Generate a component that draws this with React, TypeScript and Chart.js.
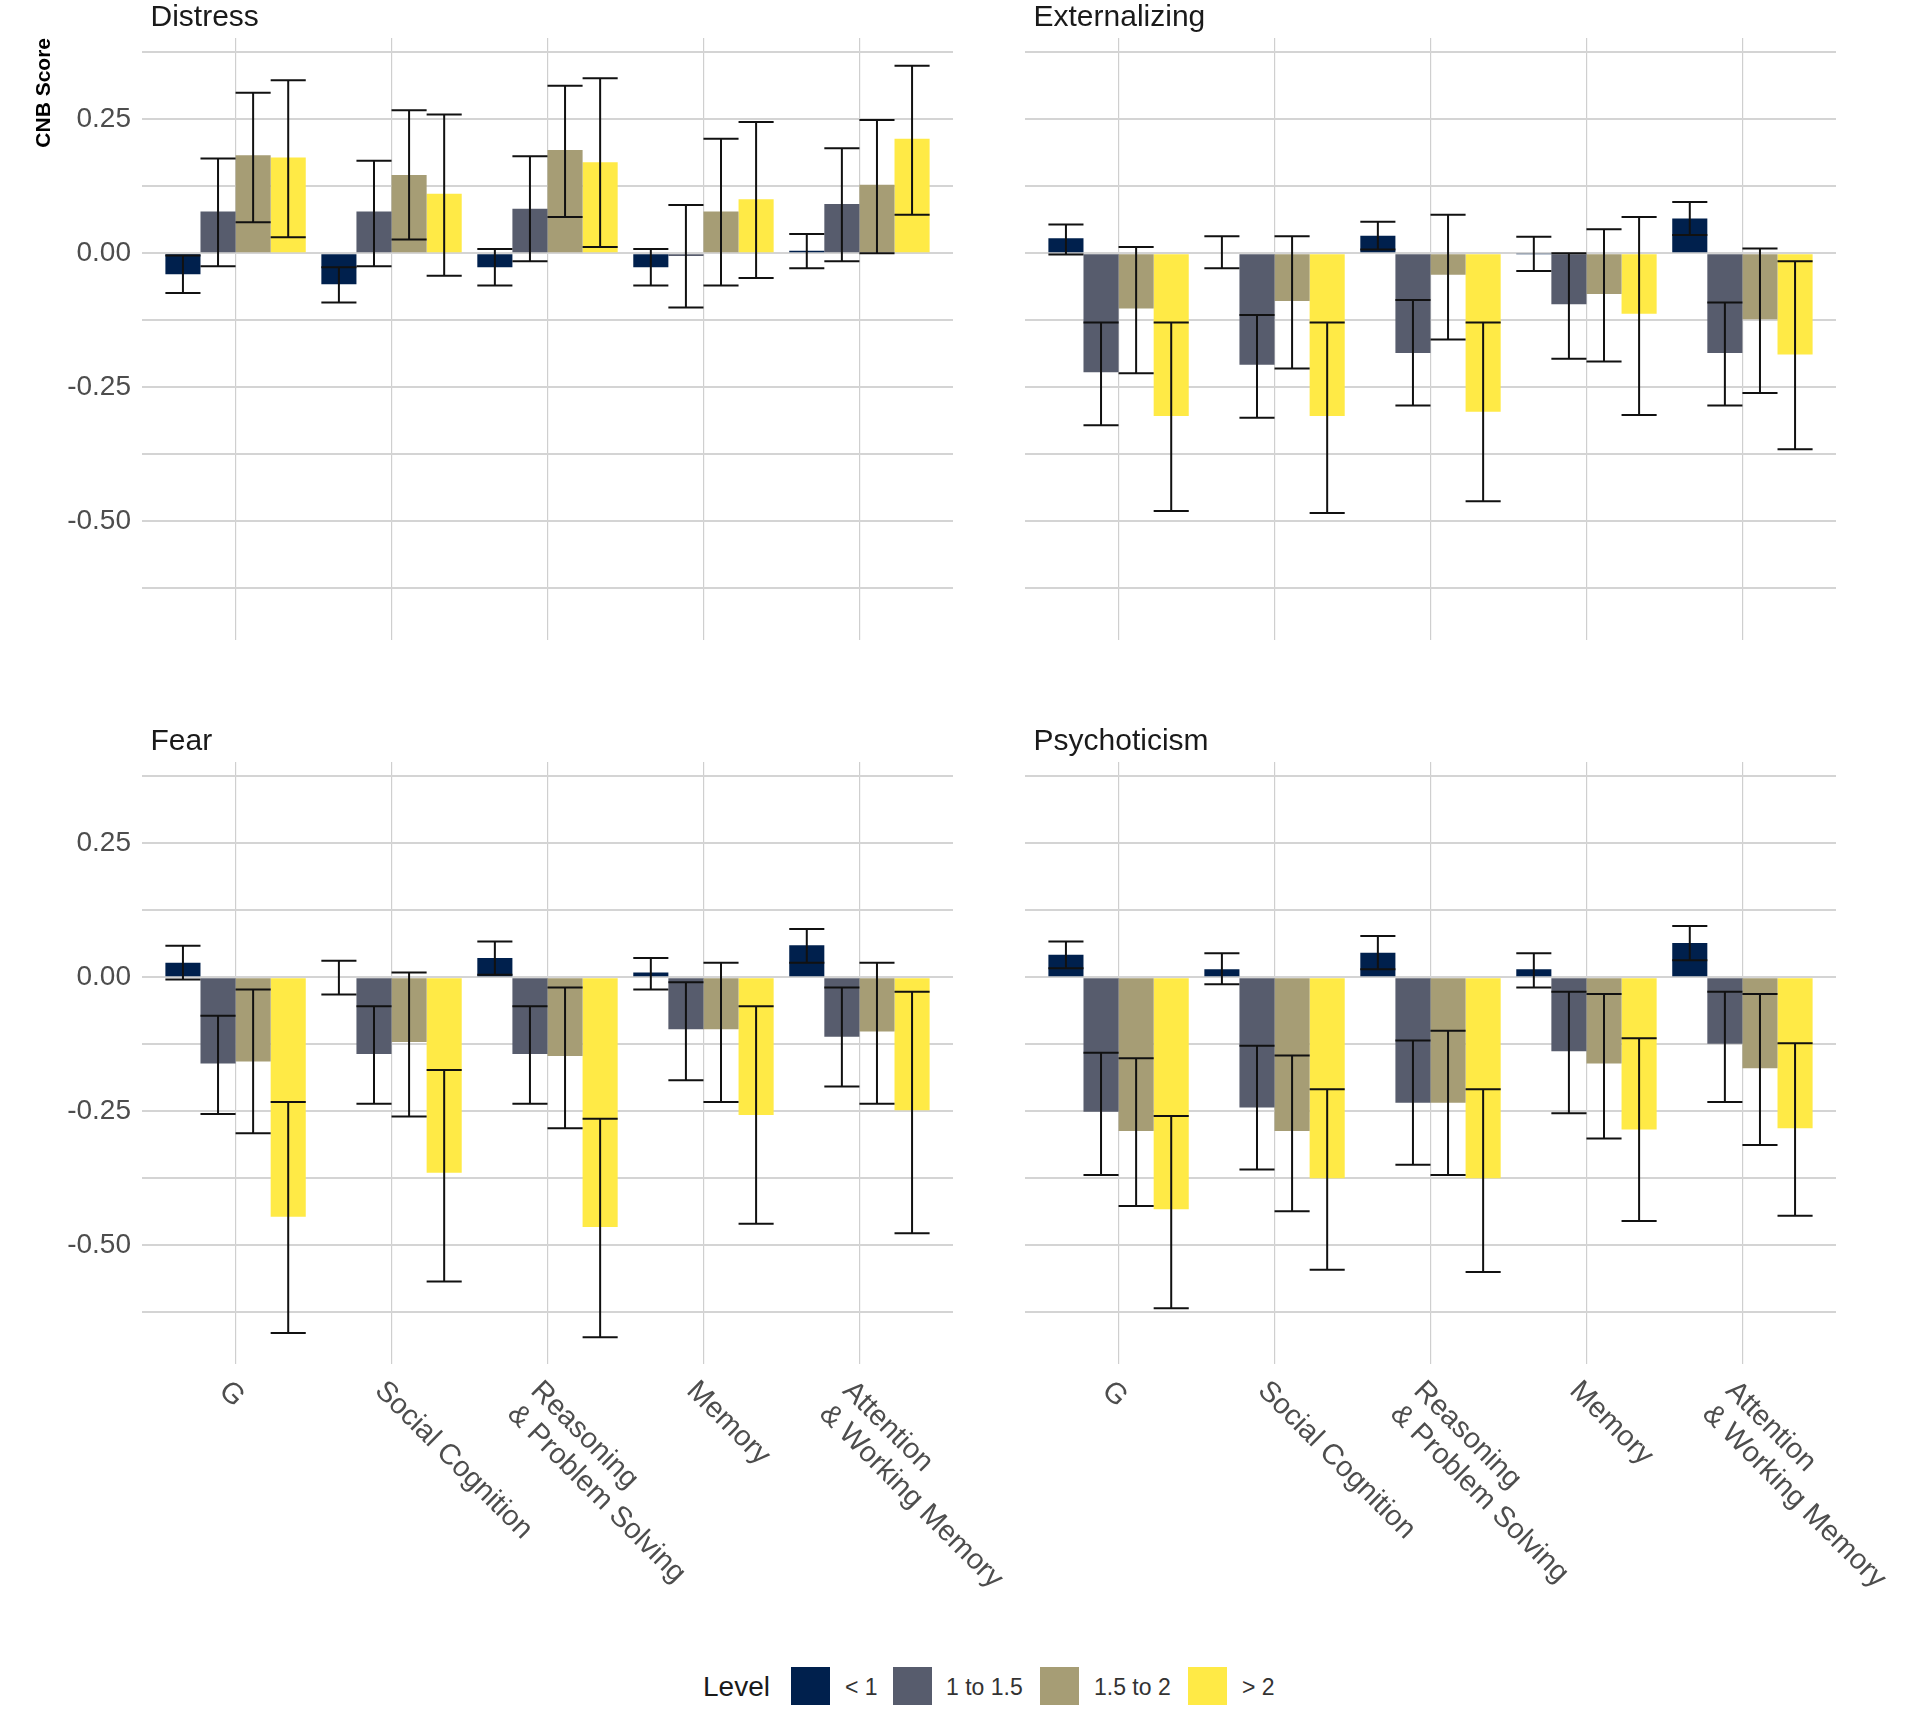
import React, { useEffect, useRef } from 'react';
import { Chart, registerables } from 'chart.js';

Chart.register(...registerables);

const FONT = '"Liberation Sans", Arial, Helvetica, sans-serif';
Chart.defaults.font.family = FONT;

// ---------- data ----------
const CATEGORIES = ['G', 'Social Cognition', 'Reasoning\n& Problem Solving', 'Memory', 'Attention\n& Working Memory'];
const LEVELS = ['< 1', '1 to 1.5', '1.5 to 2', '> 2'];
const LEVEL_COLORS = ['#00204D', '#575C6D', '#A69D75', '#FFEA46'];
const Y_GRID = [0.375, 0.25, 0.125, 0, -0.125, -0.25, -0.375, -0.5, -0.625];
const Y_LABELLED = [0.25, 0, -0.25, -0.5];
const Y_MIN = -0.722;
const Y_MAX = 0.402;
const Y_TITLE = 'CNB Score';
const LEGEND_TITLE = 'Level';

// rows = levels (< 1, 1 to 1.5, 1.5 to 2, > 2); columns = categories
const distressMean = [
  [-0.039, -0.058, -0.026, -0.026, 0.005],
  [0.078, 0.078, 0.083, -0.005, 0.092],
  [0.183, 0.146, 0.193, 0.078, 0.128],
  [0.179, 0.111, 0.170, 0.101, 0.214],
];
const distressLow = [
  [-0.074, -0.092, -0.060, -0.060, -0.028],
  [-0.024, -0.024, -0.015, -0.101, -0.015],
  [0.058, 0.026, 0.068, -0.060, 0.000],
  [0.030, -0.042, 0.012, -0.046, 0.072],
];
const distressHigh = [
  [-0.004, -0.026, 0.008, 0.008, 0.036],
  [0.177, 0.173, 0.181, 0.090, 0.196],
  [0.300, 0.267, 0.313, 0.214, 0.249],
  [0.323, 0.259, 0.327, 0.245, 0.350],
];

const externalizingMean = [
  [0.028, 0.002, 0.033, -0.001, 0.065],
  [-0.222, -0.208, -0.186, -0.095, -0.186],
  [-0.103, -0.089, -0.040, -0.076, -0.123],
  [-0.304, -0.304, -0.296, -0.113, -0.189],
];
const externalizingLow = [
  [-0.002, -0.028, 0.007, -0.033, 0.034],
  [-0.321, -0.307, -0.284, -0.197, -0.284],
  [-0.224, -0.215, -0.161, -0.202, -0.261],
  [-0.481, -0.485, -0.463, -0.302, -0.366],
];
const externalizingHigh = [
  [0.054, 0.032, 0.059, 0.031, 0.096],
  [-0.129, -0.115, -0.087, 0.000, -0.092],
  [0.012, 0.032, 0.072, 0.045, 0.009],
  [-0.129, -0.129, -0.129, 0.068, -0.015],
];

const fearMean = [
  [0.027, 0.000, 0.036, 0.009, 0.060],
  [-0.161, -0.143, -0.143, -0.097, -0.111],
  [-0.157, -0.121, -0.147, -0.097, -0.101],
  [-0.447, -0.365, -0.466, -0.257, -0.248],
];
const fearLow = [
  [-0.004, -0.032, 0.005, -0.023, 0.027],
  [-0.255, -0.236, -0.236, -0.192, -0.204],
  [-0.291, -0.260, -0.282, -0.233, -0.236],
  [-0.664, -0.568, -0.672, -0.460, -0.478],
];
const fearHigh = [
  [0.059, 0.031, 0.067, 0.036, 0.090],
  [-0.072, -0.054, -0.054, -0.009, -0.019],
  [-0.023, 0.009, -0.019, 0.027, 0.027],
  [-0.233, -0.173, -0.264, -0.054, -0.027],
];

const psychoticismMean = [
  [0.042, 0.015, 0.046, 0.015, 0.064],
  [-0.251, -0.243, -0.234, -0.138, -0.124],
  [-0.287, -0.287, -0.234, -0.161, -0.170],
  [-0.433, -0.375, -0.375, -0.284, -0.282],
];
const psychoticismLow = [
  [0.017, -0.013, 0.015, -0.019, 0.032],
  [-0.369, -0.359, -0.350, -0.254, -0.233],
  [-0.427, -0.437, -0.369, -0.301, -0.313],
  [-0.618, -0.546, -0.550, -0.455, -0.445],
];
const psychoticismHigh = [
  [0.067, 0.045, 0.077, 0.045, 0.096],
  [-0.141, -0.128, -0.118, -0.027, -0.027],
  [-0.151, -0.146, -0.100, -0.031, -0.031],
  [-0.259, -0.209, -0.209, -0.114, -0.123],
];

const FACETS = [
  { title: 'Distress', mean: distressMean, low: distressLow, high: distressHigh, col: 0, row: 0 },
  { title: 'Externalizing', mean: externalizingMean, low: externalizingLow, high: externalizingHigh, col: 1, row: 0 },
  { title: 'Fear', mean: fearMean, low: fearLow, high: fearHigh, col: 0, row: 1 },
  { title: 'Psychoticism', mean: psychoticismMean, low: psychoticismLow, high: psychoticismHigh, col: 1, row: 1 },
];

// ---------- layout (page pixels) ----------
const PANEL_X = [[142, 953], [1025, 1836]];
const PANEL_Y = [[38, 640], [762, 1364]];
const CANVAS_X = [[0, 1022], [1022, 1912]];
const CANVAS_Y = [[0, 700], [700, 1640]];

const LEGEND_SWATCH_X = [791, 893, 1040, 1188];
const LEGEND_LABEL_X = [845, 946, 1094, 1242];

type Facet = typeof FACETS[number];

function Panel({ facet }: { facet: Facet }) {
  const ref = useRef<HTMLCanvasElement>(null);
  const { col, row } = facet;
  const [cx0, cx1] = CANVAS_X[col];
  const [cy0, cy1] = CANVAS_Y[row];
  const cw = cx1 - cx0;
  const ch = cy1 - cy0;

  useEffect(() => {
    if (!ref.current) return;
    const [pl, pr] = PANEL_X[col];
    const [pt, pb] = PANEL_Y[row];
    const yAxisW = col === 0 ? pl - cx0 : 0;
    const padLeft = col === 0 ? 0 : pl - cx0;

    const errorBars = {
      id: 'errorBars',
      afterDatasetsDraw(chart: any) {
        const ctx = chart.ctx;
        const ys = chart.scales.y;
        ctx.save();
        ctx.strokeStyle = '#111111';
        ctx.lineWidth = 2;
        LEVELS.forEach((_, k) => {
          const meta = chart.getDatasetMeta(k);
          meta.data.forEach((bar: any, i: number) => {
            const { x, width } = bar.getProps(['x', 'width'], true);
            const yLo = ys.getPixelForValue(facet.low[k][i]);
            const yHi = ys.getPixelForValue(facet.high[k][i]);
            const half = width / 2;
            ctx.beginPath();
            ctx.moveTo(x, yLo);
            ctx.lineTo(x, yHi);
            ctx.moveTo(x - half, yLo);
            ctx.lineTo(x + half, yLo);
            ctx.moveTo(x - half, yHi);
            ctx.lineTo(x + half, yHi);
            ctx.stroke();
          });
        });
        ctx.restore();
      },
    };

    const facetTitle = {
      id: 'facetTitle',
      afterDraw(chart: any) {
        const { ctx, chartArea } = chart;
        ctx.save();
        ctx.font = `30px ${FONT}`;
        ctx.fillStyle = '#1a1a1a';
        ctx.textAlign = 'left';
        ctx.textBaseline = 'alphabetic';
        ctx.fillText(facet.title, chartArea.left + 8.5, chartArea.top - 12.5);
        ctx.restore();
      },
    };

    const xLabels = {
      id: 'xLabels',
      afterDraw(chart: any) {
        const { ctx, chartArea } = chart;
        const xs = chart.scales.x;
        ctx.save();
        ctx.font = `29px ${FONT}`;
        ctx.fillStyle = '#4d4d4d';
        ctx.textAlign = 'left';
        ctx.textBaseline = 'top';
        CATEGORIES.forEach((c, i) => {
          const px = xs.getPixelForValue(i + 1);
          ctx.save();
          ctx.translate(px - 2, chartArea.bottom + 12);
          ctx.rotate(Math.PI / 4);
          c.split('\n').forEach((line, j) => ctx.fillText(line, 0, j * 33));
          ctx.restore();
        });
        ctx.restore();
      },
    };

    const chart = new Chart(ref.current, {
      type: 'bar',
      data: {
        datasets: LEVELS.map((lv, k) => ({
          label: lv,
          data: facet.mean[k].map((v, i) => ({ x: i + 1, y: v })),
          backgroundColor: LEVEL_COLORS[k],
          borderWidth: 0,
          categoryPercentage: 0.9,
          barPercentage: 1,
        })),
      },
      options: {
        responsive: false,
        animation: false,
        events: [],
        layout: { padding: { left: padLeft, top: pt - cy0, right: cx1 - pr, bottom: cy1 - pb } },
        plugins: {
          legend: { display: false },
          tooltip: { enabled: false },
          title: { display: false },
        },
        scales: {
          x: {
            type: 'linear',
            min: 0.4,
            max: 5.6,
            bounds: 'data',
            offset: false,
            afterBuildTicks: (ax: any) => {
              ax.ticks = CATEGORIES.map((_, i) => ({ value: i + 1 }));
            },
            afterFit: (ax: any) => {
              ax.height = 0;
            },
            ticks: { display: false },
            grid: { display: true, offset: false, drawTicks: false, color: '#cfcfcf', lineWidth: 1.2 },
            border: { display: false },
          },
          y: {
            type: 'linear',
            min: Y_MIN,
            max: Y_MAX,
            bounds: 'data',
            afterBuildTicks: (ax: any) => {
              ax.ticks = Y_GRID.map((v) => ({ value: v }));
            },
            afterFit: (ax: any) => {
              ax.width = yAxisW;
            },
            ticks: {
              display: col === 0,
              autoSkip: false,
              padding: 11,
              color: '#4d4d4d',
              font: { family: FONT, size: 28 },
              callback: (v: any) => (Y_LABELLED.includes(v) ? Number(v).toFixed(2) : ''),
            },
            grid: { color: '#d4d4d4', lineWidth: 2, drawTicks: false },
            border: { display: false },
            title: {
              display: col === 0 && row === 0,
              text: Y_TITLE,
              align: 'end',
              color: '#000000',
              font: { family: FONT, size: 21, weight: 'bold' },
              padding: { top: 32, bottom: 0 },
            },
          },
        },
      } as any,
      plugins: row === 1 ? [errorBars, facetTitle, xLabels] : [errorBars, facetTitle],
    });
    return () => chart.destroy();
  }, []);

  return (
    <canvas
      ref={ref}
      width={cw}
      height={ch}
      style={{ position: 'absolute', left: cx0, top: cy0, width: cw, height: ch }}
    />
  );
}

function Legend() {
  return (
    <>
      <div
        style={{
          position: 'absolute',
          left: 703,
          top: 1667,
          height: 40,
          lineHeight: '40px',
          fontSize: 28,
          color: '#1a1a1a',
          whiteSpace: 'nowrap',
        }}
      >
        {LEGEND_TITLE}
      </div>
      {LEVELS.map((lv, k) => (
        <React.Fragment key={lv}>
          <div
            style={{
              position: 'absolute',
              left: LEGEND_SWATCH_X[k],
              top: 1667,
              width: 39,
              height: 38,
              background: LEVEL_COLORS[k],
            }}
          />
          <div
            style={{
              position: 'absolute',
              left: LEGEND_LABEL_X[k],
              top: 1667,
              height: 40,
              lineHeight: '40px',
              fontSize: 23,
              color: '#333333',
              whiteSpace: 'nowrap',
            }}
          >
            {lv}
          </div>
        </React.Fragment>
      ))}
    </>
  );
}

export default function App() {
  return (
    <div
      style={{
        position: 'absolute',
        left: 0,
        top: 0,
        width: 1912,
        height: 1718,
        background: '#ffffff',
        fontFamily: FONT,
        overflow: 'hidden',
      }}
    >
      {FACETS.map((f) => (
        <Panel key={f.title} facet={f} />
      ))}
      <Legend />
    </div>
  );
}
